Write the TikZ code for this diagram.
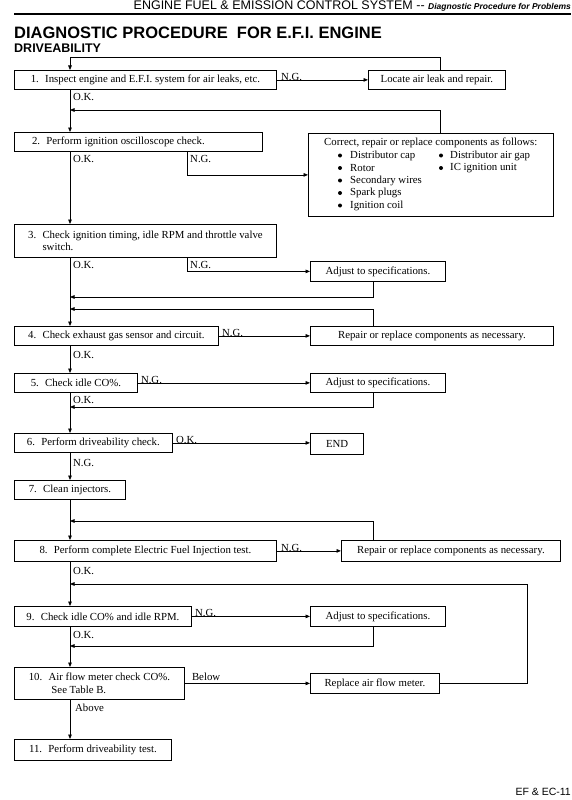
\documentclass[tikz,border=0pt]{standalone}
\usepackage{fontspec}
\setmainfont{Liberation Serif}
\newfontfamily\hsans{Liberation Sans}
\usetikzlibrary{arrows.meta,calc}
\begin{document}
\begin{tikzpicture}[x=1pt,y=-1pt,
  box/.style={draw, line width=0.8pt, rectangle, anchor=north west, inner sep=0pt,
    font=\fontsize{10.8}{12.5}\selectfont, align=center},
  lbl/.style={font=\fontsize{10.8}{12}\selectfont, inner sep=0pt},
  arr/.style={line width=0.75pt, -{Triangle[length=4.5pt,width=3.6pt]}},
  ln/.style={line width=0.7pt}]
\useasboundingbox (0,0) rectangle (571,800);

% header
\node[anchor=base east, inner sep=0pt, font=\hsans\fontsize{12.5}{12.5}\selectfont] (hdr) at (571,9.5)
  {ENGINE FUEL \& EMISSION CONTROL SYSTEM -- {\fontsize{8.5}{9}\selectfont\bfseries\itshape Diagnostic Procedure for Problems}};
\draw[line width=1.1pt] (14,14) -- (571,14);
\node[anchor=base west, inner sep=0pt, font=\hsans\bfseries\fontsize{16.5}{17}\selectfont] (title) at (14,38)
  {DIAGNOSTIC PROCEDURE\ \ FOR E.F.I. ENGINE};
\node[anchor=base west, inner sep=0pt, font=\hsans\bfseries\fontsize{12.5}{13}\selectfont] (sub) at (14,52.5)
  {DRIVEABILITY};
\node[anchor=base east, inner sep=0pt, font=\hsans\fontsize{10.5}{10}\selectfont] (pg) at (571,795) {EF \& EC-11};

% coordinates for connector routes
\coordinate (sp) at (70,0);
\coordinate (rx) at (440,0);
\coordinate (mx) at (373,0);
\coordinate (ng) at (187,0);
\coordinate (bx) at (527,0);
\coordinate (t0) at (70,57);
\coordinate (r1) at (70,110);
\coordinate (r3) at (70,297);
\coordinate (r4) at (70,309);
\coordinate (r5) at (70,407);
\coordinate (r7) at (70,521);
\coordinate (r8) at (70,584);
\coordinate (r9) at (70,646);

% boxes
\node[box, minimum width=262pt, minimum height=19pt] (b1) at (14,70) {1.~ Inspect engine and E.F.I. system for air leaks, etc.};
\node[box, minimum width=137pt, minimum height=19pt] (locate) at (368,70) {Locate air leak and repair.};
\node[box, minimum width=248pt, minimum height=19pt] (b2) at (14,132) {2.~ Perform ignition oscilloscope check.\hspace*{40pt}};
\node[box, minimum width=245pt, minimum height=83pt] (correct) at (308,133) {};
\node[box, minimum width=262pt, minimum height=33pt, align=left] (b3) at (14,224)
  {3.~ Check ignition timing, idle RPM and throttle valve\\\phantom{3.~ }switch.};
\node[box, minimum width=135pt, minimum height=20pt] (adj1) at (310,261) {Adjust to specifications.};
\node[box, minimum width=204pt, minimum height=19pt] (b4) at (14,326) {4.~ Check exhaust gas sensor and circuit.};
\node[box, minimum width=243pt, minimum height=19pt] (rep1) at (310,326) {Repair or replace components as necessary.};
\node[box, minimum width=123pt, minimum height=19pt] (b5) at (14,373) {5.~ Check idle CO\%.};
\node[box, minimum width=135pt, minimum height=19pt] (adj2) at (310,373) {Adjust to specifications.};
\node[box, minimum width=158pt, minimum height=19pt] (b6) at (14,433) {6.~ Perform driveability check.};
\node[box, minimum width=53pt, minimum height=21pt, line width=1.3pt] (endb) at (310,433) {END};
\node[box, minimum width=111pt, minimum height=19pt] (b7) at (14,480) {7.~ Clean injectors.};
\node[box, minimum width=262pt, minimum height=21pt] (b8) at (14,540) {8.~ Perform complete Electric Fuel Injection test.};
\node[box, minimum width=219pt, minimum height=21pt] (rep2) at (341,540) {Repair or replace components as necessary.};
\node[box, minimum width=177pt, minimum height=20pt] (b9) at (14,606) {9.~ Check idle CO\% and idle RPM.};
\node[box, minimum width=135pt, minimum height=20pt] (adj3) at (310,606) {Adjust to specifications.};
\node[box, minimum width=170pt, minimum height=32pt, align=left] (b10) at (14,667)
  {10.~ Air flow meter check CO\%.\\\hspace*{2.1em}See Table B.};
\node[box, minimum width=129pt, minimum height=20pt] (repl) at (310,673) {Replace air flow meter.};
\node[box, minimum width=157pt, minimum height=21pt] (b11) at (14,739) {11.~ Perform driveability test.};

% contents of the "Correct" box
\node[lbl, anchor=west] (ct) at (324,142.5) {Correct, repair or replace components as follows:};
\foreach \t/\yy [count=\i] in {Distributor cap/155.5, Rotor/168, Secondary wires/180.5, Spark plugs/193, Ignition coil/205.5}{
  \fill (340,\yy) circle (2pt);
  \node[lbl, anchor=west] (ca\i) at (350,\yy) {\t};
}
\foreach \t/\yy [count=\i] in {Distributor air gap/155.5, IC ignition unit/168}{
  \fill (441,\yy) circle (2pt);
  \node[lbl, anchor=west] (cb\i) at (450,\yy) {\t};
}

% connectors
\draw[arr] (locate.north -| rx) -- (rx |- t0) -- (t0) -- (b1.north -| sp);
\draw[arr] (b1.east) -- (locate.west);
\node[lbl, anchor=south west] (l1) at ($(b1.east)+(4,0.5)$) {N.G.};
\draw[arr] (b1.south -| sp) -- (b2.north -| sp);
\node[lbl, anchor=west] (l2) at (73,97.5) {O.K.};
\draw[arr] (correct.north -| rx) -- (rx |- r1) -- (r1);

\draw[arr] (b2.south -| sp) -- (b3.north -| sp);
\node[lbl, anchor=west] (l3) at (73,159) {O.K.};
\draw[arr] (b2.south -| ng) -- (ng |- correct.west) -- (correct.west);
\node[lbl, anchor=west] (l4) at (190,159) {N.G.};

\draw[arr] (b3.south -| sp) -- (b4.north -| sp);
\node[lbl, anchor=west] (l5) at (73,265) {O.K.};
\draw[arr] (b3.south -| ng) -- (ng |- adj1.west) -- (adj1.west);
\node[lbl, anchor=west] (l6) at (190,265) {N.G.};
\draw[arr] (adj1.south -| mx) -- (mx |- r3) -- (r3);
\draw[arr] (rep1.north -| mx) -- (mx |- r4) -- (r4);

\draw[arr] (b4.east) -- (rep1.west);
\node[lbl, anchor=south west] (l7) at ($(b4.east)+(3,0.5)$) {N.G.};
\draw[arr] (b4.south -| sp) -- (b5.north -| sp);
\node[lbl, anchor=west] (l8) at (73,355) {O.K.};

\draw[arr] (b5.east) -- (adj2.west);
\node[lbl, anchor=south west] (l9) at ($(b5.east)+(3,0.5)$) {N.G.};
\draw[arr] (adj2.south -| mx) -- (mx |- r5) -- (r5);
\draw[arr] (b5.south -| sp) -- (b6.north -| sp);
\node[lbl, anchor=west] (l10) at (73,399.5) {O.K.};

\draw[arr] (b6.east) -- (b6.east -| endb.west);
\node[lbl, anchor=south west] (l11) at ($(b6.east)+(3,0.5)$) {O.K.};
\draw[arr] (b6.south -| sp) -- (b7.north -| sp);
\node[lbl, anchor=west] (l12) at (73,463) {N.G.};

\draw[arr] (b7.south -| sp) -- (b8.north -| sp);
\draw[arr] (rep2.north -| mx) -- (mx |- r7) -- (r7);
\draw[arr] (b8.east) -- (rep2.west);
\node[lbl, anchor=south west] (l13) at ($(b8.east)+(4,0.5)$) {N.G.};

\draw[arr] (b8.south -| sp) -- (b9.north -| sp);
\node[lbl, anchor=west] (l14) at (73,571) {O.K.};
\draw[arr] (repl.east) -- (bx |- repl.east) -- (bx |- r8) -- (r8);

\draw[arr] (b9.east) -- (adj3.west);
\node[lbl, anchor=south west] (l15) at ($(b9.east)+(3,0.5)$) {N.G.};
\draw[arr] (adj3.south -| mx) -- (mx |- r9) -- (r9);
\draw[arr] (b9.south -| sp) -- (b10.north -| sp);
\node[lbl, anchor=west] (l16) at (73,635) {O.K.};

\draw[arr] (b10.east) -- (repl.west);
\node[lbl, anchor=south west] (l17) at ($(b10.east)+(7,-3)$) {Below};
\draw[arr] (b10.south -| sp) -- (b11.north -| sp);
\node[lbl, anchor=west] (l18) at (75,708) {Above};
\end{tikzpicture}
\end{document}
